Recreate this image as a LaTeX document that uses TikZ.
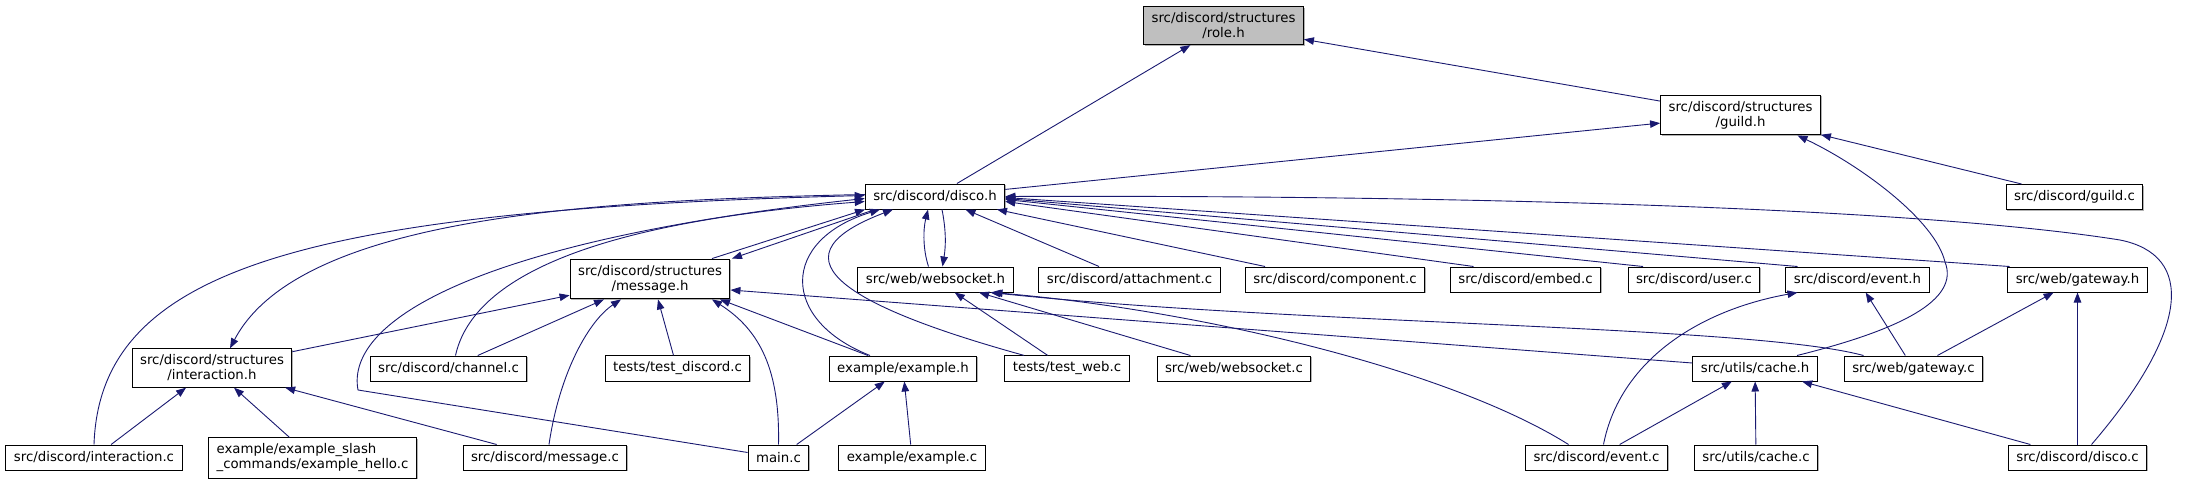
\documentclass[tikz,border=0pt]{standalone}
\usepackage{fontspec}
\setmainfont{DejaVu Sans}
\definecolor{edgeblue}{HTML}{191970}
\definecolor{rootgrey}{HTML}{BFBFBF}
\usetikzlibrary{arrows.meta, shadows}

\begin{document}
\begin{tikzpicture}[x=1pt, y=-1pt, every node/.style={font=\fontsize{13.3}{15}\selectfont}]
        \tikzset{
          filebox/.style={draw=black, fill=white, line width=1pt,
                 inner xsep=8pt, inner ysep=6pt, minimum height=25pt, align=center,
                 drop shadow={shadow xshift=1.2pt, shadow yshift=-1.2pt, fill=gray!60, opacity=1}},
          rootbox/.style={filebox, fill=rootgrey},
          incl/.style={-{Triangle[length=10pt, width=7.5pt]}, edgeblue, line width=0.9pt}
        }
        \useasboundingbox (0,0) rectangle (2185,484);
        \node[rootbox] (role) at (1223.5,25.5) {src/discord/structures\\/role.h};
        \node[filebox] (guildh) at (1740.5,115) {src/discord/structures\\/guild.h};
        \node[filebox] (guildc) at (2074.5,197) {src/discord/guild.c};
        \node[filebox] (disco) at (935,196.5) {src/discord/disco.h};
        \node[filebox] (msgh) at (650,279) {src/discord/structures\\/message.h};
        \node[filebox] (wsh) at (935.5,279.5) {src/web/websocket.h};
        \node[filebox] (attach) at (1129.5,279.5) {src/discord/attachment.c};
        \node[filebox] (compo) at (1335,279.5) {src/discord/component.c};
        \node[filebox] (embed) at (1525.5,279.5) {src/discord/embed.c};
        \node[filebox] (user) at (1694,279.5) {src/discord/user.c};
        \node[filebox] (eventh) at (1857.5,279.5) {src/discord/event.h};
        \node[filebox] (gatewayh) at (2077.5,279.5) {src/web/gateway.h};
        \node[filebox] (interh) at (212,368) {src/discord/structures\\/interaction.h};
        \node[filebox] (channelc) at (448.5,368.5) {src/discord/channel.c};
        \node[filebox] (testdisc) at (677.5,368.5) {tests/test\_discord.c};
        \node[filebox] (exampleh) at (903,368.5) {example/example.h};
        \node[filebox] (testweb) at (1067,368.5) {tests/test\_web.c};
        \node[filebox] (wsc) at (1234,368.5) {src/web/websocket.c};
        \node[filebox] (cacheh) at (1755,368.5) {src/utils/cache.h};
        \node[filebox] (gatewayc) at (1913.5,368.5) {src/web/gateway.c};
        \node[filebox] (interc) at (94,457.5) {src/discord/interaction.c};
        \node[filebox, align=left] (hello) at (312.5,458) {example/example\_slash\\\_commands/example\_hello.c};
        \node[filebox] (msgc) at (545,457.5) {src/discord/message.c};
        \node[filebox] (mainc) at (778.5,457.5) {main.c};
        \node[filebox] (examplec) at (912,457.5) {example/example.c};
        \node[filebox] (eventc) at (1596.5,457.5) {src/discord/event.c};
        \node[filebox] (cachec) at (1756,457.5) {src/utils/cache.c};
        \node[filebox] (discoc) at (2077.5,457.5) {src/discord/disco.c};
        \draw[incl] (disco) -- (role);
        \draw[incl] (guildh) -- (role);
        \draw[incl] (disco) -- (guildh);
        \draw[incl] (guildc) -- (guildh);
        \draw[incl] ([xshift=42pt]cacheh.north) .. controls (1900,330) and (1960,300) .. (1945,262)
          .. controls (1935,220) and (1860,165) .. ([xshift=57pt]guildh.south);
        \draw[incl] ([xshift=62pt]msgh.north) -- ([xshift=-70pt]disco.south);
        \draw[incl] ([xshift=-60pt]disco.south) -- ([xshift=82pt]msgh.north);
        \draw[incl] ([xshift=-7pt]wsh.north) .. controls (923,250) and (923,230) .. ([xshift=-7pt]disco.south);
        \draw[incl] ([xshift=7pt]disco.south) .. controls (946,230) and (946,245) .. ([xshift=7pt]wsh.north);
        \draw[incl] ([yshift=2pt]disco.west) .. controls (600,200) and (300,215) .. ([xshift=18pt]interh.north);
        \draw[incl] (interc.north) .. controls (100,270) and (300,210) .. ([yshift=1pt]disco.west);
        \draw[incl] ([yshift=5pt]mainc.west) -- (358,390) .. controls (345,320) and (480,240) .. ([yshift=-2pt]disco.west);
        \draw[incl] ([xshift=7pt]channelc.north) .. controls (470,290) and (560,225) .. ([yshift=-5pt]disco.west);
        \draw[incl] ([xshift=-33pt]exampleh.north) .. controls (780,320) and (780,240) .. ([xshift=-55pt]disco.south);
        \draw[incl] ([xshift=-43pt]testweb.north) .. controls (860,310) and (760,260) .. ([xshift=-42pt]disco.south);
        \draw[incl] (attach) -- (disco);
        \draw[incl] ([xshift=-70pt]compo.north) -- ([xshift=62pt]disco.south);
        \draw[incl] ([xshift=-52pt]embed.north) -- ([yshift=-5pt]disco.east);
        \draw[incl] ([xshift=-51pt]user.north) -- ([yshift=-3pt]disco.east);
        \draw[incl] ([xshift=-60pt]eventh.north) -- ([yshift=-2pt]disco.east);
        \draw[incl] ([xshift=-68pt]gatewayh.north) -- ([yshift=-1pt]disco.east);
        \draw[incl] ([xshift=14pt]discoc.north) .. controls (2190,330) and (2195,255) .. (2120,240)
          .. controls (1900,205) and (1400,195) .. (disco.east);
        \draw[incl] (interh) -- (msgh);
        \draw[incl] (channelc) -- (msgh);
        \draw[incl] ([xshift=4pt]msgc.north) .. controls (560,370) and (590,320) .. ([xshift=-29pt]msgh.south);
        \draw[incl] ([xshift=-4pt]testdisc.north) -- ([xshift=8pt]msgh.south);
        \draw[incl] (mainc.north) .. controls (780,370) and (760,330) .. ([xshift=62pt]msgh.south);
        \draw[incl] ([xshift=-35pt]exampleh.north) -- ([xshift=70pt]msgh.south);
        \draw[incl] ([yshift=5.5pt]cacheh.west) -- ([yshift=-11pt]msgh.east);
        \draw[incl] (interc) -- (interh);
        \draw[incl] (hello) -- (interh);
        \draw[incl] (msgc) -- (interh);
        \draw[incl] (mainc) -- (exampleh);
        \draw[incl] (examplec) -- (exampleh);
        \draw[incl] (testweb) -- (wsh);
        \draw[incl] (wsc) -- (wsh);
        \draw[incl] ([xshift=-28pt]eventc.north) .. controls (1450,370) and (1200,310) .. ([xshift=57pt]wsh.south);
        \draw[incl] ([xshift=-50pt]gatewayc.north) .. controls (1750,325) and (1300,325) .. ([xshift=55pt]wsh.south);
        \draw[incl] ([xshift=7pt]eventc.north) .. controls (1620,360) and (1700,310) .. ([xshift=-60pt]eventh.south);
        \draw[incl] (gatewayc) -- (eventh);
        \draw[incl] (gatewayc) -- (gatewayh);
        \draw[incl] (discoc) -- (gatewayh);
        \draw[incl] (eventc) -- (cacheh);
        \draw[incl] (cachec) -- (cacheh);
        \draw[incl] (discoc) -- (cacheh);
      \end{tikzpicture}
\end{document}
